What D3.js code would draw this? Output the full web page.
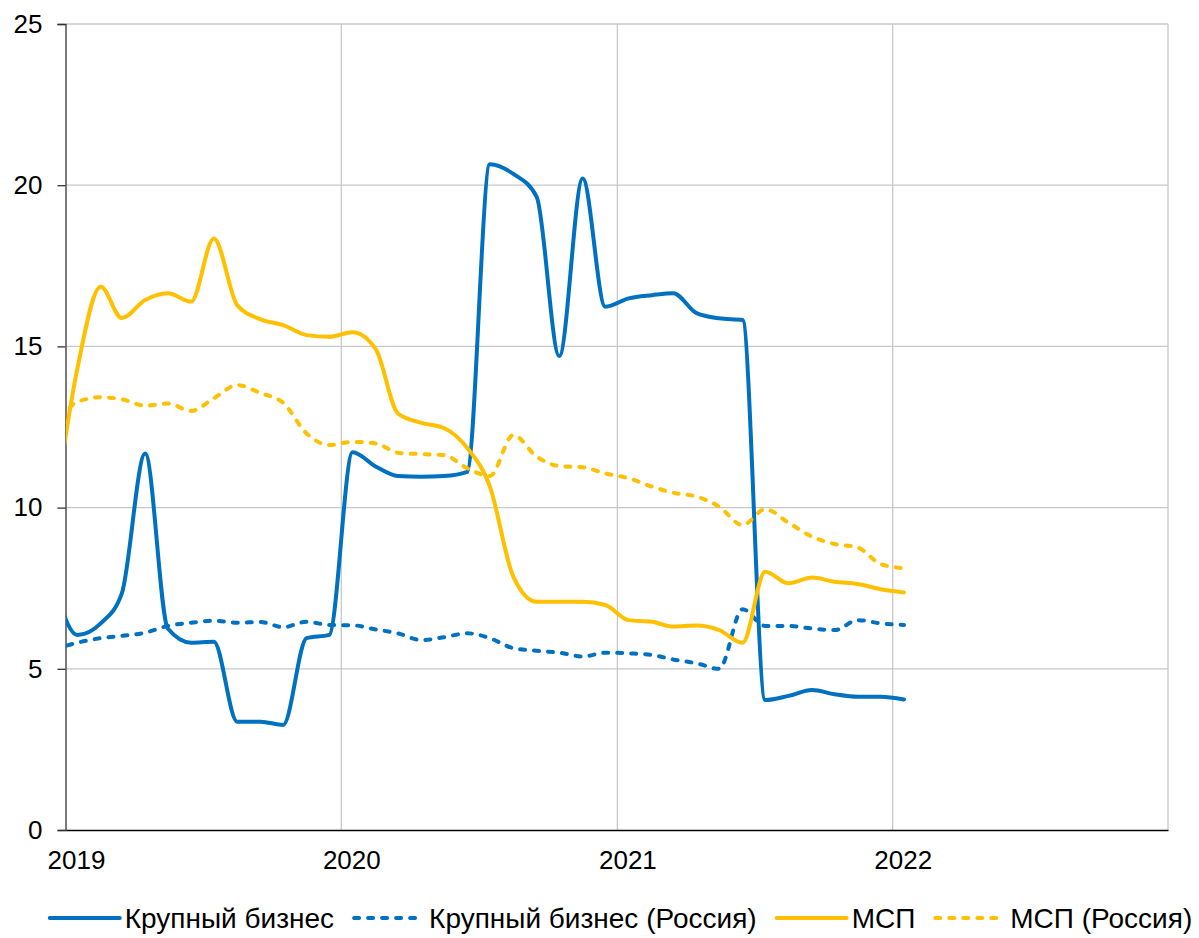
<!DOCTYPE html>
<html>
<head>
<meta charset="utf-8">
<script src="https://cdn.jsdelivr.net/npm/d3@7"></script>
<style>
  body { margin: 0; background: #fff; }
  text { font-family: "Liberation Sans", Arial, sans-serif; fill: #000; }
</style>
</head>
<body>
<svg id="chart" width="1199" height="938"></svg>
<script>
// monthly values, Dec 2018 .. Jan 2022 (Dec 2018 is cut off by the axis)
var bigBiz      = [7.64, 6.05, 6.41, 7.34, 11.68, 6.25, 5.81, 5.84, 3.36, 3.36, 3.26, 5.95, 6.05,
                   11.72, 11.27, 10.98, 10.96, 10.98, 11.11, 20.65, 20.35, 19.64, 14.7, 20.21, 16.23,
                   16.49, 16.59, 16.65, 16.03, 15.87, 15.82, 4.03, 4.16, 4.34, 4.21, 4.13, 4.13, 4.05];
var bigBizRu    = [5.6, 5.81, 5.95, 6.02, 6.12, 6.33, 6.43, 6.49, 6.43, 6.45, 6.29, 6.46, 6.36,
                   6.35, 6.22, 6.1, 5.89, 5.98, 6.1, 5.95, 5.64, 5.56, 5.5, 5.38, 5.5,
                   5.48, 5.43, 5.29, 5.17, 5.0, 6.85, 6.33, 6.33, 6.25, 6.2, 6.51, 6.41, 6.36];
var sme         = [9.8, 14.3, 16.85, 15.88, 16.44, 16.65, 16.39, 18.35, 16.28, 15.84, 15.66, 15.35, 15.3,
                   15.44, 14.9, 12.92, 12.63, 12.47, 11.85, 10.65, 7.86, 7.08, 7.08, 7.08, 6.98,
                   6.51, 6.46, 6.31, 6.34, 6.2, 5.81, 8.01, 7.65, 7.83, 7.7, 7.63, 7.47, 7.37];
var smeRu       = [12.38, 13.28, 13.42, 13.36, 13.16, 13.23, 13.0, 13.39, 13.8, 13.55, 13.25, 12.3, 11.94,
                   12.04, 11.99, 11.7, 11.66, 11.63, 11.22, 10.98, 12.25, 11.58, 11.29, 11.25, 11.06,
                   10.91, 10.65, 10.46, 10.34, 10.03, 9.46, 9.95, 9.53, 9.1, 8.87, 8.76, 8.25, 8.12];
var seriesNames = ["Крупный бизнес", "Крупный бизнес (Россия)", "МСП", "МСП (Россия)"];
var yearTicks   = [2019, 2020, 2021, 2022, 2023];
var yTicks      = [0, 5, 10, 15, 20, 25];

var svg = d3.select("#chart");
var pLeft = 66, pRight = 1168, pTop = 24, pBottom = 830;

var months = d3.timeMonth.range(new Date(2018, 11, 1), new Date(2022, 1, 1))
    .map(function(d) { return new Date(d.getFullYear(), d.getMonth(), 16); });

var x = d3.scaleTime()
    .domain([new Date(2019, 0, 1), new Date(2023, 0, 1)])
    .range([pLeft, pRight]);
var y = d3.scaleLinear().domain([0, 25]).range([pBottom, pTop]);

var series = [
  {name: seriesNames[0], values: bigBiz,   color: "#0070C0", dash: null},
  {name: seriesNames[1], values: bigBizRu, color: "#0070C0", dash: "5,9"},
  {name: seriesNames[2], values: sme,      color: "#FFC000", dash: null},
  {name: seriesNames[3], values: smeRu,    color: "#FFC000", dash: "5,9"}
];

svg.append("defs").append("clipPath").attr("id", "plot")
  .append("rect").attr("x", pLeft).attr("y", pTop - 5)
  .attr("width", pRight - pLeft).attr("height", pBottom - pTop + 5);

// gridlines
var grid = svg.append("g");
grid.selectAll(".hg").data(yTicks.slice(1)).enter().append("line")
    .attr("x1", pLeft).attr("x2", pRight)
    .attr("y1", function(d) { return y(d); }).attr("y2", function(d) { return y(d); })
    .attr("stroke", "#c8c8c8").attr("stroke-width", 1.3);
grid.selectAll(".vg").data(yearTicks.slice(1)).enter().append("line")
    .attr("x1", function(d) { return x(new Date(d, 0, 1)); })
    .attr("x2", function(d) { return x(new Date(d, 0, 1)); })
    .attr("y1", pTop).attr("y2", pBottom)
    .attr("stroke", "#c8c8c8").attr("stroke-width", 1.3);

// y axis
var yAxis = svg.append("g")
    .attr("transform", "translate(" + (pLeft - 0.5) + ",0)")
    .call(d3.axisLeft(y).tickValues(yTicks).tickSize(8).tickPadding(15));
yAxis.select(".domain").attr("stroke", "#333").attr("stroke-width", 1.3);
yAxis.selectAll(".tick line").attr("stroke", "#333").attr("stroke-width", 1.3);
yAxis.selectAll("text").style("font-size", "26px")
    .style("font-family", "'Liberation Sans', Arial, sans-serif").attr("fill", "#000");

// x axis
var xAxis = svg.append("g")
    .attr("transform", "translate(0," + pBottom + ")")
    .call(d3.axisBottom(x)
      .tickValues(yearTicks.slice(0, 4).map(function(d) { return new Date(d, 0, 1); }))
      .tickFormat(d3.timeFormat("%Y")).tickSize(0).tickPadding(21));
xAxis.select(".domain").attr("stroke", "#000").attr("stroke-width", 1.5);
xAxis.selectAll("text").style("font-size", "26px").attr("dx", 10)
    .style("font-family", "'Liberation Sans', Arial, sans-serif").attr("fill", "#000");

// lines
var line = d3.line()
    .curve(d3.curveMonotoneX)
    .x(function(d, i) { return x(months[i]); })
    .y(function(d) { return y(d); });

var plot = svg.append("g").attr("clip-path", "url(#plot)");
plot.selectAll(".series").data(series).enter().append("path")
    .attr("d", function(d) { return line(d.values); })
    .attr("fill", "none")
    .attr("stroke", function(d) { return d.color; })
    .attr("stroke-width", 4)
    .attr("stroke-linecap", "round")
    .attr("stroke-linejoin", "round")
    .attr("stroke-dasharray", function(d) { return d.dash; });

// legend
var legend = svg.append("g").attr("transform", "translate(0,918)");
var item = legend.selectAll(".item").data(series).enter().append("g");
item.append("line")
    .attr("x1", 2).attr("x2", 72).attr("y1", 0).attr("y2", 0)
    .attr("stroke", function(d) { return d.color; })
    .attr("stroke-width", 4)
    .attr("stroke-linecap", "round")
    .attr("stroke-dasharray", function(d) { return d.dash; });
item.append("text")
    .attr("x", 77).attr("y", 10)
    .style("font-size", "28px")
    .text(function(d) { return d.name; });

var widths = [];
item.each(function() { widths.push(this.getBBox().width); });
var gap = 20;
var total = d3.sum(widths) + gap * (widths.length - 1);
var cur = 619 - total / 2;
item.attr("transform", function(d, i) {
  var t = "translate(" + cur + ",0)";
  cur += widths[i] + gap;
  return t;
});
</script>
</body>
</html>
